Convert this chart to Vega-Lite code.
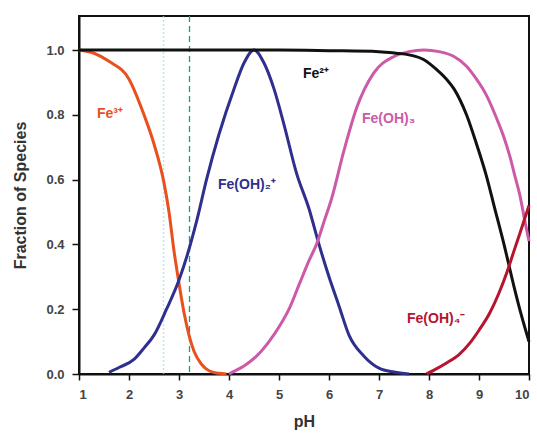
{
  "$schema": "https://vega.github.io/schema/vega-lite/v6.json",
  "width": 450,
  "height": 358,
  "autosize": {"type": "none"},
  "padding": {"left": 79, "top": 16, "right": 8, "bottom": 59},
  "background": "white",
  "config": {
    "view": {"stroke": "#111", "strokeWidth": 2},
    "font": "Liberation Sans"
  },
  "datasets": {
    "curves": [
      {"species": "Fe3+", "pH": 1.0, "frac": 1.0},
      {"species": "Fe3+", "pH": 1.3, "frac": 0.99},
      {"species": "Fe3+", "pH": 1.6, "frac": 0.965},
      {"species": "Fe3+", "pH": 2.0, "frac": 0.91},
      {"species": "Fe3+", "pH": 2.3, "frac": 0.8},
      {"species": "Fe3+", "pH": 2.5, "frac": 0.71},
      {"species": "Fe3+", "pH": 2.7, "frac": 0.59},
      {"species": "Fe3+", "pH": 2.8, "frac": 0.5},
      {"species": "Fe3+", "pH": 2.9, "frac": 0.38},
      {"species": "Fe3+", "pH": 3.0, "frac": 0.28},
      {"species": "Fe3+", "pH": 3.1, "frac": 0.19},
      {"species": "Fe3+", "pH": 3.2, "frac": 0.12},
      {"species": "Fe3+", "pH": 3.3, "frac": 0.07},
      {"species": "Fe3+", "pH": 3.45, "frac": 0.03},
      {"species": "Fe3+", "pH": 3.6, "frac": 0.01},
      {"species": "Fe3+", "pH": 3.8, "frac": 0.002},
      {"species": "Fe3+", "pH": 3.95, "frac": 0.0},
      {"species": "Fe(OH)2+", "pH": 1.6, "frac": 0.005},
      {"species": "Fe(OH)2+", "pH": 1.8, "frac": 0.02},
      {"species": "Fe(OH)2+", "pH": 2.1, "frac": 0.045},
      {"species": "Fe(OH)2+", "pH": 2.3, "frac": 0.08},
      {"species": "Fe(OH)2+", "pH": 2.5, "frac": 0.12},
      {"species": "Fe(OH)2+", "pH": 2.75, "frac": 0.2},
      {"species": "Fe(OH)2+", "pH": 3.0, "frac": 0.29},
      {"species": "Fe(OH)2+", "pH": 3.2, "frac": 0.385},
      {"species": "Fe(OH)2+", "pH": 3.35, "frac": 0.47},
      {"species": "Fe(OH)2+", "pH": 3.55, "frac": 0.6},
      {"species": "Fe(OH)2+", "pH": 3.8, "frac": 0.74},
      {"species": "Fe(OH)2+", "pH": 4.1, "frac": 0.88},
      {"species": "Fe(OH)2+", "pH": 4.3, "frac": 0.96},
      {"species": "Fe(OH)2+", "pH": 4.5, "frac": 1.0},
      {"species": "Fe(OH)2+", "pH": 4.7, "frac": 0.96},
      {"species": "Fe(OH)2+", "pH": 4.9, "frac": 0.88},
      {"species": "Fe(OH)2+", "pH": 5.1, "frac": 0.77},
      {"species": "Fe(OH)2+", "pH": 5.35, "frac": 0.62},
      {"species": "Fe(OH)2+", "pH": 5.6, "frac": 0.51},
      {"species": "Fe(OH)2+", "pH": 5.8, "frac": 0.4},
      {"species": "Fe(OH)2+", "pH": 6.0, "frac": 0.3},
      {"species": "Fe(OH)2+", "pH": 6.2, "frac": 0.21},
      {"species": "Fe(OH)2+", "pH": 6.4, "frac": 0.12},
      {"species": "Fe(OH)2+", "pH": 6.7, "frac": 0.055},
      {"species": "Fe(OH)2+", "pH": 7.0, "frac": 0.018},
      {"species": "Fe(OH)2+", "pH": 7.3, "frac": 0.006},
      {"species": "Fe(OH)2+", "pH": 7.6, "frac": 0.0},
      {"species": "Fe(OH)3", "pH": 4.0, "frac": 0.0},
      {"species": "Fe(OH)3", "pH": 4.1, "frac": 0.008},
      {"species": "Fe(OH)3", "pH": 4.3, "frac": 0.025},
      {"species": "Fe(OH)3", "pH": 4.55, "frac": 0.055},
      {"species": "Fe(OH)3", "pH": 4.8, "frac": 0.1},
      {"species": "Fe(OH)3", "pH": 5.0, "frac": 0.145},
      {"species": "Fe(OH)3", "pH": 5.2, "frac": 0.2},
      {"species": "Fe(OH)3", "pH": 5.4, "frac": 0.275},
      {"species": "Fe(OH)3", "pH": 5.6, "frac": 0.35},
      {"species": "Fe(OH)3", "pH": 5.75, "frac": 0.4},
      {"species": "Fe(OH)3", "pH": 5.9, "frac": 0.47},
      {"species": "Fe(OH)3", "pH": 6.05, "frac": 0.54},
      {"species": "Fe(OH)3", "pH": 6.3, "frac": 0.69},
      {"species": "Fe(OH)3", "pH": 6.55, "frac": 0.82},
      {"species": "Fe(OH)3", "pH": 6.9, "frac": 0.93},
      {"species": "Fe(OH)3", "pH": 7.3, "frac": 0.98},
      {"species": "Fe(OH)3", "pH": 7.6, "frac": 0.995},
      {"species": "Fe(OH)3", "pH": 7.9, "frac": 1.0},
      {"species": "Fe(OH)3", "pH": 8.2, "frac": 0.995},
      {"species": "Fe(OH)3", "pH": 8.5, "frac": 0.98},
      {"species": "Fe(OH)3", "pH": 8.75, "frac": 0.95},
      {"species": "Fe(OH)3", "pH": 8.95, "frac": 0.91},
      {"species": "Fe(OH)3", "pH": 9.15, "frac": 0.86},
      {"species": "Fe(OH)3", "pH": 9.35, "frac": 0.79},
      {"species": "Fe(OH)3", "pH": 9.5, "frac": 0.73},
      {"species": "Fe(OH)3", "pH": 9.62, "frac": 0.67},
      {"species": "Fe(OH)3", "pH": 9.72, "frac": 0.61},
      {"species": "Fe(OH)3", "pH": 9.82, "frac": 0.55},
      {"species": "Fe(OH)3", "pH": 9.92, "frac": 0.47},
      {"species": "Fe(OH)3", "pH": 10.0, "frac": 0.41},
      {"species": "Fe2+", "pH": 1.0, "frac": 1.0},
      {"species": "Fe2+", "pH": 3.0, "frac": 1.0},
      {"species": "Fe2+", "pH": 5.0, "frac": 1.0},
      {"species": "Fe2+", "pH": 6.0, "frac": 0.998},
      {"species": "Fe2+", "pH": 7.0, "frac": 0.995},
      {"species": "Fe2+", "pH": 7.35, "frac": 0.99},
      {"species": "Fe2+", "pH": 7.6, "frac": 0.985},
      {"species": "Fe2+", "pH": 7.9, "frac": 0.97},
      {"species": "Fe2+", "pH": 8.15, "frac": 0.94},
      {"species": "Fe2+", "pH": 8.35, "frac": 0.91},
      {"species": "Fe2+", "pH": 8.5, "frac": 0.88},
      {"species": "Fe2+", "pH": 8.75, "frac": 0.8},
      {"species": "Fe2+", "pH": 8.95, "frac": 0.71},
      {"species": "Fe2+", "pH": 9.15, "frac": 0.61},
      {"species": "Fe2+", "pH": 9.3, "frac": 0.52},
      {"species": "Fe2+", "pH": 9.5, "frac": 0.4},
      {"species": "Fe2+", "pH": 9.7, "frac": 0.27},
      {"species": "Fe2+", "pH": 9.85, "frac": 0.18},
      {"species": "Fe2+", "pH": 10.0, "frac": 0.1},
      {"species": "Fe(OH)4-", "pH": 7.95, "frac": 0.0},
      {"species": "Fe(OH)4-", "pH": 8.1, "frac": 0.012},
      {"species": "Fe(OH)4-", "pH": 8.35, "frac": 0.034},
      {"species": "Fe(OH)4-", "pH": 8.6, "frac": 0.06},
      {"species": "Fe(OH)4-", "pH": 8.82, "frac": 0.096},
      {"species": "Fe(OH)4-", "pH": 9.0, "frac": 0.135},
      {"species": "Fe(OH)4-", "pH": 9.22, "frac": 0.19},
      {"species": "Fe(OH)4-", "pH": 9.4, "frac": 0.25},
      {"species": "Fe(OH)4-", "pH": 9.55, "frac": 0.31},
      {"species": "Fe(OH)4-", "pH": 9.7, "frac": 0.38},
      {"species": "Fe(OH)4-", "pH": 9.82, "frac": 0.435},
      {"species": "Fe(OH)4-", "pH": 10.0, "frac": 0.52}
    ],
    "labels": [
      {"species": "Fe3+", "text": "Fe³⁺", "pH": 1.36, "frac": 0.79},
      {"species": "Fe2+", "text": "Fe²⁺", "pH": 5.48, "frac": 0.915},
      {"species": "Fe(OH)2+", "text": "Fe(OH)₂⁺", "pH": 3.78, "frac": 0.57},
      {"species": "Fe(OH)3", "text": "Fe(OH)₃", "pH": 6.66, "frac": 0.775},
      {"species": "Fe(OH)4-", "text": "Fe(OH)₄⁻", "pH": 7.56, "frac": 0.158}
    ],
    "vlines": [
      {"name": "cyan", "pH": 2.69},
      {"name": "teal", "pH": 3.21}
    ]
  },
  "resolve": {"scale": {"x": "shared", "y": "shared"}},
  "layer": [
    {
      "data": {"name": "vlines"},
      "transform": [{"filter": "datum.name == 'cyan'"}],
      "mark": {"type": "rule", "stroke": "#8fe6ea", "strokeWidth": 1.5, "strokeDash": [2, 2], "opacity": 0.7},
      "encoding": {"x": {"field": "pH", "type": "quantitative", "scale": {"domain": [1, 10], "nice": false, "zero": false}}}
    },
    {
      "data": {"name": "vlines"},
      "transform": [{"filter": "datum.name == 'teal'"}],
      "mark": {"type": "rule", "stroke": "#13a37c", "strokeWidth": 1.3, "strokeDash": [6, 4]},
      "encoding": {"x": {"field": "pH", "type": "quantitative", "scale": {"domain": [1, 10], "nice": false, "zero": false}}}
    },
    {
      "data": {"name": "curves"},
      "mark": {"type": "line", "interpolate": "monotone", "strokeWidth": 3},
      "encoding": {
        "x": {
          "field": "pH", "type": "quantitative",
          "scale": {"domain": [1, 10], "nice": false, "zero": false},
          "axis": {
            "title": "pH", "values": [1, 2, 3, 4, 5, 6, 7, 8, 9, 10], "format": "d",
            "domainColor": "#111", "domainWidth": 2, "tickColor": "#111", "tickWidth": 1.5, "tickSize": 6,
            "labelFont": "Liberation Sans", "labelFontWeight": "bold", "labelFontSize": 13, "labelColor": "#444",
            "labelPadding": 8, "grid": false,
            "titleFont": "Liberation Sans", "titleFontWeight": "bold", "titleFontSize": 16, "titleColor": "#333", "titlePadding": 12
          }
        },
        "y": {
          "field": "frac", "type": "quantitative",
          "scale": {"domain": [0, 1.105], "nice": false},
          "axis": {
            "title": "Fraction of Species", "values": [0, 0.2, 0.4, 0.6, 0.8, 1.0], "format": ".1f",
            "domainColor": "#111", "domainWidth": 2, "tickColor": "#111", "tickWidth": 1.5, "tickSize": 7,
            "labelFont": "Liberation Sans", "labelFontWeight": "bold", "labelFontSize": 13, "labelColor": "#444",
            "labelPadding": 8, "grid": false,
            "titleFont": "Liberation Sans", "titleFontWeight": "bold", "titleFontSize": 16, "titleColor": "#333", "titlePadding": 17
          }
        },
        "color": {
          "field": "species", "type": "nominal",
          "scale": {
            "domain": ["Fe3+", "Fe2+", "Fe(OH)2+", "Fe(OH)3", "Fe(OH)4-"],
            "range": ["#e8501e", "#111111", "#2e2f8e", "#cc5aa8", "#b5152e"]
          },
          "legend": null
        },
        "detail": {"field": "species"}
      }
    },
    {
      "data": {"name": "labels"},
      "mark": {"type": "text", "align": "left", "baseline": "alphabetic", "font": "Liberation Sans", "fontWeight": "bold", "fontSize": 14},
      "encoding": {
        "x": {"field": "pH", "type": "quantitative", "scale": {"domain": [1, 10], "nice": false, "zero": false}},
        "y": {"field": "frac", "type": "quantitative", "scale": {"domain": [0, 1.105], "nice": false}},
        "text": {"field": "text"},
        "color": {"field": "species", "type": "nominal", "legend": null}
      }
    }
  ]
}
